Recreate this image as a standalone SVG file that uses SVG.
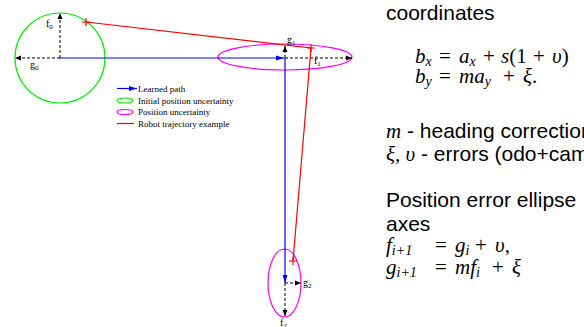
<svg xmlns="http://www.w3.org/2000/svg" width="584" height="327" viewBox="0 0 584 327">
<style>
.sans{font-family:"Liberation Sans",Arial,sans-serif;font-size:21px;fill:#000}
.math{font-family:"Liberation Serif","Times New Roman",serif;font-size:21px;font-style:italic;fill:#000}
.up{font-style:normal}
.sub{font-size:14px}
.lbl{font-family:"Liberation Serif","Times New Roman",serif;font-size:10px;fill:#000}
.lsub{font-size:7px}
.leg{font-family:"Liberation Serif","Times New Roman",serif;font-size:9px;fill:#000}
.dash{stroke:#000;stroke-width:1;stroke-dasharray:3,2;fill:none;marker-end:url(#ah)}
.blue{stroke:#0000ff;stroke-width:1.2;fill:none;marker-end:url(#bh)}
.red{stroke:#ff0000;stroke-width:1.2;fill:none}
.green{stroke:#00ee00;stroke-width:1.2;fill:none}
.mag{stroke:#ff00ff;stroke-width:1.2;fill:none}
</style>
<defs>
<marker id="ah" markerUnits="userSpaceOnUse" markerWidth="6" markerHeight="6" refX="6" refY="3" orient="auto">
<path d="M0,0.5 L6,3 L0,5.5 z" fill="#000"/>
</marker>
<marker id="bh" markerUnits="userSpaceOnUse" markerWidth="8" markerHeight="6" refX="8" refY="3" orient="auto">
<path d="M0,0.5 L8,3 L0,5.5 z" fill="#0000ff"/>
</marker>
</defs>

<g id="initial-uncertainty">
<circle class="green" cx="60" cy="58" r="45"/>
<path class="dash" d="M60,58 V13"/>
<path class="dash" d="M60,58 H15"/>
<text class="lbl" x="46" y="27">f<tspan class="lsub" dy="2">0</tspan></text>
<text class="lbl" x="30" y="68">g<tspan class="lsub" dy="2">0</tspan></text>
</g>

<g id="uncertainty-1">
<ellipse class="mag" cx="285" cy="57" rx="67" ry="13"/>
<path class="dash" d="M285,58 V46"/>
<path class="dash" d="M285,58 H352"/>
<text class="lbl" x="287" y="43">g<tspan class="lsub" dy="2">1</tspan></text>
<text class="lbl" x="314" y="64">f<tspan class="lsub" dy="2">1</tspan></text>
</g>

<g id="uncertainty-2">
<ellipse class="mag" cx="284.5" cy="283" rx="16.5" ry="34"/>
<path class="dash" d="M285,283 H301"/>
<path class="dash" d="M285,283 V316"/>
<text class="lbl" x="303" y="286">g<tspan class="lsub" dy="2">2</tspan></text>
<text class="lbl" x="280" y="326">f<tspan class="lsub" dy="2">2</tspan></text>
</g>

<g id="connectors">
<path class="blue" d="M60,58 H284"/>
<path class="blue" d="M285,58 V283"/>
<path class="red" d="M86,22 L311,48 L293,261"/>
<path class="red" d="M82,22 H90 M86,18 V26 M307,48 H315 M311,44 V52 M289,261 H297 M293,257 V265"/>
</g>

<g id="legend">
<path class="blue" d="M117,88.5 H137"/>
<text class="leg" x="138" y="91.5">Learned path</text>
<ellipse class="green" cx="125" cy="100.5" rx="8" ry="2.5"/>
<text class="leg" x="138" y="103.5">Initial position uncertainty</text>
<ellipse class="mag" cx="125" cy="112" rx="8" ry="2.5"/>
<text class="leg" x="138" y="115">Position uncertainty</text>
<path class="red" d="M117,123.5 H134"/>
<text class="leg" x="138" y="126.5">Robot trajectory example</text>
</g>

<g id="equations">
<text class="sans" x="386" y="20">coordinates</text>
<text class="math" y="63"><tspan x="415">b</tspan><tspan class="sub" dy="3">x</tspan><tspan class="up" x="439" dy="-3">=</tspan><tspan x="459">a</tspan><tspan class="sub" dy="3">x</tspan><tspan class="up" x="483" dy="-3">+</tspan><tspan x="501">s</tspan><tspan class="up">(1</tspan><tspan class="up" x="533">+</tspan><tspan x="552">υ</tspan><tspan class="up">)</tspan></text>
<text class="math" y="83"><tspan x="415">b</tspan><tspan class="sub" dy="3">y</tspan><tspan class="up" x="439" dy="-3">=</tspan><tspan x="459">ma</tspan><tspan class="sub" dy="3">y</tspan><tspan class="up" x="503" dy="-3">+</tspan><tspan x="523">ξ</tspan><tspan class="up">.</tspan></text>
<text class="sans" x="386" y="138"><tspan class="math">m</tspan> - heading correction</text>
<text class="sans" x="386" y="161"><tspan class="math">ξ, υ</tspan> - errors (odo+camera)</text>
<text class="sans" x="386" y="207">Position error ellipse</text>
<text class="sans" x="386" y="231">axes</text>
<text class="math" y="252"><tspan x="386">f</tspan><tspan class="sub" dy="3">i+1</tspan><tspan class="up" x="435" dy="-3">=</tspan><tspan x="455">g</tspan><tspan class="sub" dy="3">i</tspan><tspan class="up" x="475" dy="-3">+</tspan><tspan x="495">υ</tspan><tspan class="up">,</tspan></text>
<text class="math" y="274"><tspan x="386">g</tspan><tspan class="sub" dy="3">i+1</tspan><tspan class="up" x="435" dy="-3">=</tspan><tspan x="455">mf</tspan><tspan class="sub" dy="3">i</tspan><tspan class="up" x="492" dy="-3">+</tspan><tspan x="512">ξ</tspan></text>
</g>
</svg>
